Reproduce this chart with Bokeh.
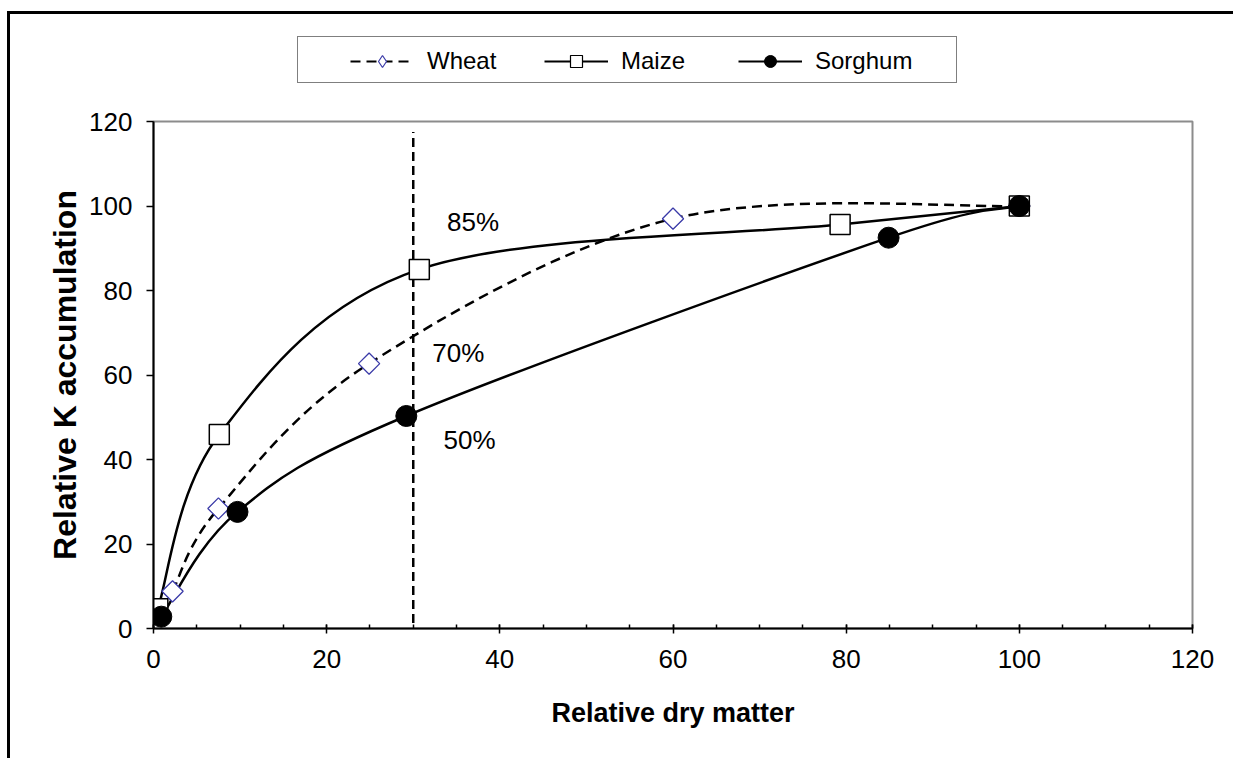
import numpy as np
from bokeh.plotting import figure
from bokeh.layouts import column
from bokeh.models import (Range1d, SingleIntervalTicker, Legend, LegendItem,
                          InlineStyleSheet, ColumnDataSource)
from bokeh.core.properties import value
from bokeh.embed import file_html
from bokeh.resources import INLINE

# ---- data ----
series_names = ["Wheat", "Maize", "Sorghum"]
wheat_x = [2.2, 7.5, 24.9, 60.0, 100.0]
wheat_y = [8.8, 28.4, 62.7, 97.0, 100.0]
maize_x = [0.5, 7.6, 30.7, 79.3, 100.0]
maize_y = [4.7, 45.9, 85.0, 95.6, 100.0]
sorghum_x = [0.9, 9.7, 29.2, 84.9, 100.0]
sorghum_y = [2.8, 27.6, 50.3, 92.5, 100.0]
cutoff_x = [30, 30]
cutoff_y = [-2.0, 117.5]
pct_x = [36.9, 35.2, 36.5]
pct_y = [96.3, 65.1, 44.5]
pct_labels = ["85%", "70%", "50%"]
x_title = "Relative dry matter"
y_title = "Relative K accumulation"

FONT = "Liberation Sans"
WHEAT_C = "#3a3aa8"
DASH = "10 6"
LW = 2.5
BORDER_L, FRAME_W, BORDER_R = 143, 1039, 41
TOTAL_W = BORDER_L + FRAME_W + BORDER_R
LEG_H = 75


def smooth_segments(xs, ys):
    """Bezier control points (Excel-like smoothed line) between data points."""
    n = len(xs)
    pts = list(zip(xs, ys))
    d = dict(x0=[], y0=[], x1=[], y1=[], cx0=[], cy0=[], cx1=[], cy1=[])
    for i in range(n - 1):
        pa = pts[max(i - 1, 0)]
        p1 = pts[i]
        p2 = pts[i + 1]
        pb = pts[min(i + 2, n - 1)]
        d["x0"].append(p1[0]); d["y0"].append(p1[1])
        d["x1"].append(p2[0]); d["y1"].append(p2[1])
        d["cx0"].append(p1[0] + (p2[0] - pa[0]) / 6.0)
        d["cy0"].append(p1[1] + (p2[1] - pa[1]) / 6.0)
        d["cx1"].append(p2[0] - (pb[0] - p1[0]) / 6.0)
        d["cy1"].append(p2[1] - (pb[1] - p1[1]) / 6.0)
    return ColumnDataSource(d)


# ---------------- main chart ----------------
p = figure(
    output_backend="svg", toolbar_location=None,
    frame_width=FRAME_W, frame_height=507,
    min_border_left=BORDER_L, min_border_right=BORDER_R,
    min_border_top=32, min_border_bottom=130,
    x_range=Range1d(0, 120), y_range=Range1d(0, 120),
    background_fill_color="white", border_fill_color="white",
)
p.outline_line_color = "#8c8c8c"
p.outline_line_width = 2
p.xgrid.visible = False
p.ygrid.visible = False

xa = p.xaxis[0]
xa.ticker = SingleIntervalTicker(interval=20, num_minor_ticks=4)
xa.axis_line_color = "black"; xa.axis_line_width = 2
xa.major_tick_in = 4; xa.major_tick_out = 5
xa.minor_tick_in = 4; xa.minor_tick_out = 0
xa.major_tick_line_width = 1.5; xa.minor_tick_line_width = 1.5
xa.major_tick_line_color = "black"; xa.minor_tick_line_color = "black"
xa.major_label_text_font = FONT; xa.major_label_text_font_size = "26px"
xa.major_label_text_color = "black"; xa.major_label_standoff = 16
xa.axis_label = x_title
xa.axis_label_text_font = FONT; xa.axis_label_text_font_size = "27px"
xa.axis_label_text_font_style = "bold"; xa.axis_label_text_color = "black"
xa.axis_label_standoff = 27

ya = p.yaxis[0]
ya.ticker = SingleIntervalTicker(interval=20, num_minor_ticks=0)
ya.axis_line_color = "black"; ya.axis_line_width = 2
ya.major_tick_in = 0; ya.major_tick_out = 7
ya.minor_tick_line_color = None
ya.major_tick_line_width = 1.5; ya.major_tick_line_color = "black"
ya.major_label_text_font = FONT; ya.major_label_text_font_size = "26px"
ya.major_label_text_color = "black"; ya.major_label_standoff = 14
ya.axis_label = y_title
ya.axis_label_text_font = FONT; ya.axis_label_text_font_size = "32px"
ya.axis_label_text_font_style = "bold"; ya.axis_label_text_color = "black"
ya.axis_label_standoff = 3

# vertical cut-off line
p.line(cutoff_x, cutoff_y, line_color="black", line_width=2.5, line_dash="9 5")

# smoothed curves
for xs, ys, dash in [(wheat_x, wheat_y, DASH), (maize_x, maize_y, "solid"),
                     (sorghum_x, sorghum_y, "solid")]:
    p.bezier(x0="x0", y0="y0", x1="x1", y1="y1", cx0="cx0", cy0="cy0", cx1="cx1", cy1="cy1",
             source=smooth_segments(xs, ys), line_color="black", line_width=LW, line_dash=dash)

# markers
p.scatter(wheat_x, wheat_y, marker="square", angle=np.pi / 4, size=15,
          fill_color="white", line_color=WHEAT_C, line_width=1.3)
p.scatter(maize_x, maize_y, marker="square", size=20,
          fill_color="white", line_color="black", line_width=1.5)
p.scatter(sorghum_x, sorghum_y, marker="circle", size=21,
          fill_color="black", line_color="black", line_width=1)

# percentage labels
p.text(pct_x, pct_y, text=pct_labels, text_font=value(FONT), text_font_size="26px",
       text_color="black", text_align="center", text_baseline="middle")

# ---------------- legend strip ----------------
# its ranges exclude the series values, so the legend proxies draw nothing here
lg = figure(
    output_backend="svg", toolbar_location=None,
    width=TOTAL_W, height=LEG_H, min_border=0,
    x_range=Range1d(1000, 1001), y_range=Range1d(1000, 1001),
    x_axis_location=None, y_axis_location=None,
    background_fill_color="white", border_fill_color="white",
)
lg.outline_line_color = None
lg.xgrid.visible = False
lg.ygrid.visible = False

w_ln = lg.line(wheat_x, wheat_y, line_color="black", line_width=2, line_dash=DASH)
w_mk = lg.scatter(wheat_x, wheat_y, marker="diamond", size=12,
                  fill_color="white", line_color=WHEAT_C, line_width=1.2)
m_ln = lg.line(maize_x, maize_y, line_color="black", line_width=2)
m_mk = lg.scatter(maize_x, maize_y, marker="square", size=12,
                  fill_color="white", line_color="black", line_width=1.2)
s_ln = lg.line(sorghum_x, sorghum_y, line_color="black", line_width=2)
s_mk = lg.scatter(sorghum_x, sorghum_y, marker="circle", size=12,
                  fill_color="black", line_color="black", line_width=1)
box_ln = lg.line(wheat_x, wheat_y, line_alpha=0)

box_legend = Legend(items=[LegendItem(label="", renderers=[box_ln])],
                    location=(144, 6), orientation="horizontal",
                    padding=0, margin=0, spacing=0,
                    glyph_width=1, glyph_height=45, label_standoff=0, label_width=657,
                    label_text_font_size="1px",
                    border_line_color="black", border_line_width=1.5,
                    background_fill_color="white", background_fill_alpha=1)
lg.add_layout(box_legend)

legend = Legend(items=[
    LegendItem(label=series_names[0], renderers=[w_ln, w_mk]),
    LegendItem(label=series_names[1], renderers=[m_ln, m_mk]),
    LegendItem(label=series_names[2], renderers=[s_ln, s_mk]),
], location=(197, 13), orientation="horizontal",
    padding=0, margin=0, spacing=17,
    glyph_width=64, glyph_height=30, label_standoff=13, label_width=100,
    label_text_font=FONT, label_text_font_size="24px", label_text_color="black",
    border_line_color=None, background_fill_alpha=0)
lg.add_layout(legend)

layout = column(lg, p, spacing=0)
layout.stylesheets = [InlineStyleSheet(css=":host { border-top: 3px solid black; border-left: 3px solid black; margin-top: 11px; margin-left: 7px; }")]

open("out.html", "w").write(file_html(layout, INLINE))
